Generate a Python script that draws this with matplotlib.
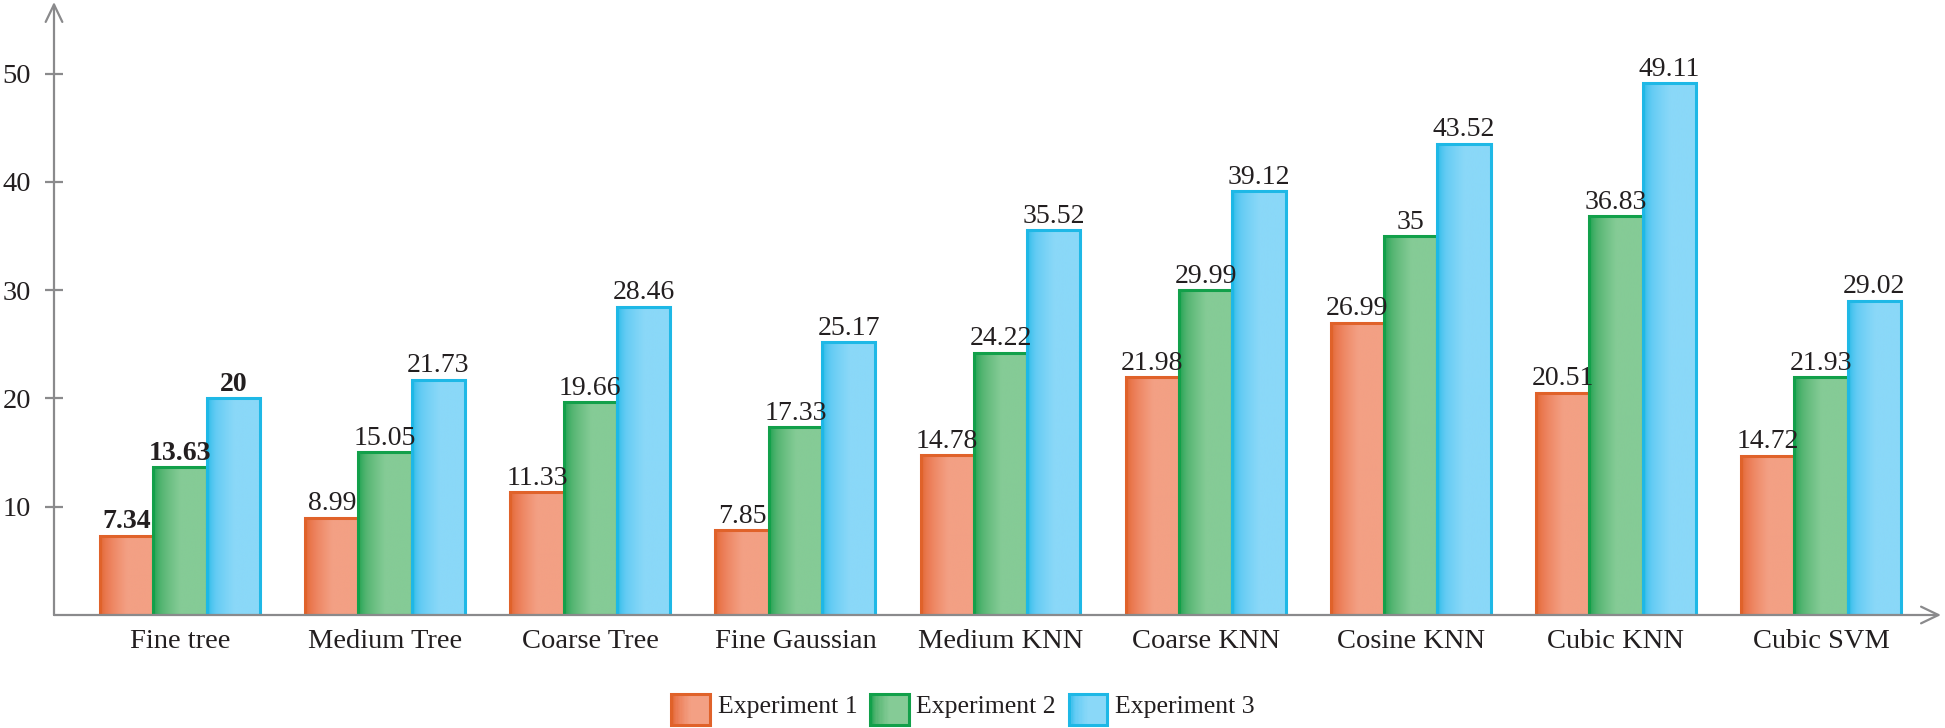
import numpy as np
import matplotlib
matplotlib.use("Agg")
import matplotlib.pyplot as plt
from matplotlib.colors import LinearSegmentedColormap
from matplotlib.legend_handler import HandlerBase
from matplotlib.patches import Rectangle

categories = ["Fine tree", "Medium Tree", "Coarse Tree", "Fine Gaussian", "Medium KNN",
              "Coarse KNN", "Cosine KNN", "Cubic KNN", "Cubic SVM"]
exp1 = [7.34, 8.99, 11.33, 7.85, 14.78, 21.98, 26.99, 20.51, 14.72]
exp2 = [13.63, 15.05, 19.66, 17.33, 24.22, 29.99, 35, 36.83, 21.93]
exp3 = [20, 21.73, 28.46, 25.17, 35.52, 39.12, 43.52, 49.11, 29.02]
series_names = ["Experiment 1", "Experiment 2", "Experiment 3"]
yticks = [10, 20, 30, 40, 50]

# edge, gradient left, gradient right
styles = [("#E0622A", "#EC7E58", "#F3A084"),
          ("#12A04A", "#55B572", "#85CB96"),
          ("#1EB8E6", "#62CBF4", "#8AD8F8")]
cmaps = [LinearSegmentedColormap.from_list("g", [e, a, b, b], N=256) for e, a, b in styles]
TXT = "#231f20"
AXC = "#8a8a8c"


class GradientHandler(HandlerBase):
    """Legend square with the same left-to-right gradient as the bars."""
    def __init__(self, k):
        super().__init__()
        self.k = k

    def create_artists(self, legend, orig, xd, yd, w, h, fontsize, trans):
        x, y = -xd, -yd - 0.17 * fontsize   # centre the square on the label
        n = 30
        arts = []
        for i in range(n):
            c = cmaps[self.k]((i / (n - 1)) ** 0.6)
            arts.append(Rectangle((x + w * i / n, y), w / n + 0.3, h, facecolor=c,
                                  edgecolor="none", transform=trans))
        arts.append(Rectangle((x, y), w, h, fill=False, edgecolor=styles[self.k][0],
                              linewidth=2.2, transform=trans))
        return arts


plt.rcParams["font.family"] = ["Liberation Serif", "DejaVu Serif"]
W, H = 1945, 728
fig = plt.figure(figsize=(W / 100, H / 100), dpi=100)
x0, x1, ytop, ybot = 54, 1941, 2, 615
ax = fig.add_axes([x0 / W, (H - ybot) / H, (x1 - x0) / W, (ybot - ytop) / H])
for s in ax.spines.values():
    s.set_visible(False)

bw = 0.26
x = np.arange(len(categories))
grad = np.linspace(0, 1, 256).reshape(1, -1) ** 0.6
for k, vals in enumerate([exp1, exp2, exp3]):
    edge = styles[k][0]
    pos = x + (k - 1) * bw
    bars = ax.bar(pos, vals, width=bw, facecolor=styles[k][1], edgecolor="none", zorder=2)
    for b, v in zip(bars, vals):
        im = ax.imshow(grad, cmap=cmaps[k], aspect="auto", zorder=2.5,
                       extent=[b.get_x(), b.get_x() + bw, 0, v])
        im.set_clip_path(b)
        ax.add_patch(Rectangle((b.get_x(), 0), bw, v, fill=False, edgecolor=edge,
                               linewidth=2.2, zorder=3))
    for i, (p, v) in enumerate(zip(pos, vals)):
        ax.annotate(f"{v:g}", (p, v), xytext=(0, 1), textcoords="offset points",
                    ha="center", va="bottom", fontsize=20, color=TXT, zorder=5,
                    fontweight="bold" if i == 0 else "normal")

ax.set_xlim((x0 - 180) / 205.1, 8 + (x1 - 1821) / 205.1)
ax.set_ylim(0, (ybot - ytop) / 108.3 * 10)

ax.set_xticks(x)
ax.set_xticklabels(categories, fontsize=20.5, color=TXT)
ax.tick_params(axis="x", length=0, pad=10)
ax.set_yticks(yticks)
ax.set_yticklabels([str(t) for t in yticks], fontsize=20.5, color=TXT)
ax.tick_params(axis="y", direction="inout", length=13, width=1.6, color=AXC, pad=10)

arrow = dict(arrowstyle="->,head_length=1.25,head_width=0.6", color=AXC,
             lw=1.6, shrinkA=0, shrinkB=0)
ax.annotate("", xy=(0, 1), xytext=(0, 0), xycoords="axes fraction", arrowprops=arrow)
ax.annotate("", xy=(1, 0), xytext=(0, 0), xycoords="axes fraction", arrowprops=arrow)

handles = [Rectangle((0, 0), 1, 1) for _ in series_names]
fig.legend(handles, series_names, loc="center", bbox_to_anchor=(963 / W, (H - 705) / H),
           ncol=3, frameon=False, fontsize=18.5, handlelength=1.5, handleheight=1.5,
           handletextpad=0.3, columnspacing=0.5, labelcolor=TXT,
           handler_map={h: GradientHandler(k) for k, h in enumerate(handles)})

fig.savefig("out.png", dpi=100)
